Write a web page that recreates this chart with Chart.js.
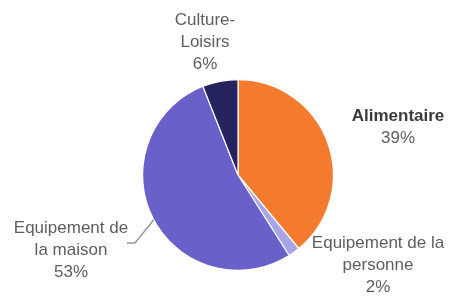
<!DOCTYPE html>
<html>
<head>
<meta charset="utf-8">
<script src="https://cdn.jsdelivr.net/npm/chart.js@4.4.1/dist/chart.umd.min.js"></script>
<style>
  html, body { margin: 0; padding: 0; background: #ffffff; }
  #wrap { width: 452px; height: 298px; }
</style>
</head>
<body>
<div id="wrap"><canvas id="c" width="452" height="298"></canvas></div>
<script>
// ---- Data ----
const categories = ["Alimentaire", "Equipement de la personne", "Equipement de la maison", "Culture-Loisirs"];
const shares = [39, 2, 53, 6];
const labelLines = [
  ["Alimentaire"],
  ["Equipement de la", "personne"],
  ["Equipement de", "la maison"],
  ["Culture-", "Loisirs"]
];
const sliceColors = ["#F47A2E", "#A9A5E4", "#6A60CA", "#25245F"];

// ---- Label layout (relative to pie centre) ----
const labelLayout = [
  { dx: 160, dy: -59, bold: true },
  { dx: 140, dy: 68, bold: false },
  { dx: -167, dy: 53, bold: false },
  { dx: -33, dy: -155, bold: false }
];

const labelPlugin = {
  id: 'pieLabels',
  afterDraw(chart) {
    const ctx = chart.ctx;
    const meta = chart.getDatasetMeta(0);
    const arc0 = meta.data[0];
    const cx = arc0.x, cy = arc0.y, r = arc0.outerRadius;
    const lh = 22;
    ctx.save();
    ctx.textAlign = 'center';
    ctx.textBaseline = 'middle';
    categories.forEach((cat, i) => {
      const lay = labelLayout[i];
      const lines = labelLines[i].concat([shares[i] + '%']);
      lines.forEach((t, k) => {
        const isName = k < lines.length - 1;
        if (lay.bold && isName) {
          ctx.font = 'bold 17px "Liberation Sans", Arial, sans-serif';
          ctx.fillStyle = '#3a3a3a';
        } else {
          ctx.font = '17px "Liberation Sans", Arial, sans-serif';
          ctx.fillStyle = '#5e5e5e';
        }
        ctx.fillText(t, cx + lay.dx, cy + lay.dy + k * lh);
      });
    });
    // leader line for "Equipement de la maison"
    const ang = 152 * Math.PI / 180;
    const ex = cx + r * Math.cos(ang), ey = cy + r * Math.sin(ang);
    ctx.strokeStyle = '#9a9a9a';
    ctx.lineWidth = 1.5;
    ctx.beginPath();
    ctx.moveTo(cx - 111, cy + 68);
    ctx.lineTo(cx - 103, cy + 68);
    ctx.lineTo(ex, ey);
    ctx.stroke();
    ctx.restore();
  }
};

new Chart(document.getElementById('c'), {
  type: 'pie',
  data: {
    labels: categories,
    datasets: [{
      data: shares,
      backgroundColor: sliceColors,
      borderColor: '#ffffff',
      borderWidth: 1.2
    }]
  },
  options: {
    responsive: false,
    animation: false,
    layout: { padding: { top: 79, bottom: 27, left: 142, right: 118 } },
    plugins: {
      legend: { display: false },
      tooltip: { enabled: false }
    }
  },
  plugins: [labelPlugin]
});
</script>
</body>
</html>
